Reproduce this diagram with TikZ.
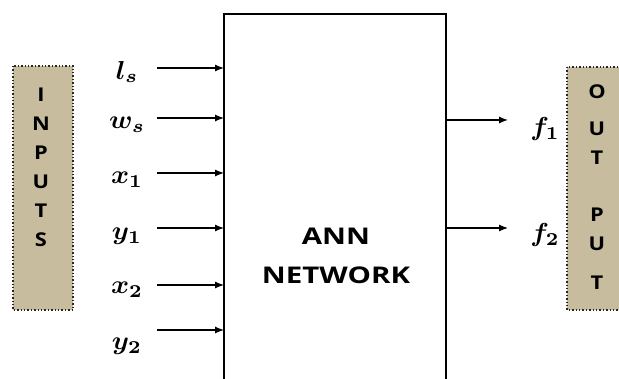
\documentclass[tikz,border=0pt]{standalone}
\usepackage{fontspec}
\usepackage{amsmath,bm,graphicx}
\newfontfamily\osans{Open Sans}
\usetikzlibrary{arrows.meta}
\definecolor{tan}{RGB}{199,189,158}
\tikzset{
  x=1pt,y=-1pt,
  sidebox/.style={draw=black!85,fill=tan,line width=1.4pt,dotted},
  letter/.style={font=\osans\bfseries\fontsize{19}{19}\selectfont},
  arr/.style={-{Latex[length=9pt,width=7pt]},line width=1.2pt},
}
\newcommand\mlab[1]{\scalebox{2.75}[2.6]{$\bm{#1}$}}
\begin{document}
\begin{tikzpicture}
\useasboundingbox (0,0) rectangle (619,379);
\begin{scope}
\clip (0,0) rectangle (619,379);
% network box
\draw[line width=1.2pt] (224,390) -- (224,14) -- (446,14) -- (446,390);
\node[font=\osans\bfseries\fontsize{23}{23}\selectfont] (ann) at (336,236) {\scalebox{1.28}[1]{ANN}};
\node[font=\osans\bfseries\fontsize{23}{23}\selectfont] (net) at (336,275) {\scalebox{1.28}[1]{NETWORK}};
% inputs box
\draw[sidebox] (13,66) rectangle (73,310);
\foreach \l [count=\i] in {I,N,P,U,T,S}
  \node[letter] (in\i) at (41,95+28.9*\i-28.9) {\scalebox{1.15}[1]{\l}};
% output box
\draw[sidebox] (567,67) rectangle (630,310);
\node[letter] (o1) at (597,92) {\scalebox{1.15}[1]{O}};
\node[letter] (o2) at (597,129) {\scalebox{1.15}[1]{U}};
\node[letter] (o3) at (597,158) {\scalebox{1.15}[1]{T}};
\node[letter] (o4) at (597,215) {\scalebox{1.15}[1]{P}};
\node[letter] (o5) at (597,244) {\scalebox{1.15}[1]{U}};
\node[letter] (o6) at (597,283) {\scalebox{1.15}[1]{T}};
% input labels and arrows
\foreach \t/\y/\ly [count=\i] in {l_s/68/72, w_s/118/125, x_1/173/180, y_1/228/236, x_2/285/290, y_2/330/346}{
  \node (L\i) at (127,\ly) {\mlab{\t}};
  \coordinate (s\i) at (157,\y);
  \coordinate (e\i) at (224,\y);
  \draw[arr] (s\i) -- (e\i);
}
% outputs
\node (f1) at (545,129) {\mlab{f_1}};
\node (f2) at (545,235) {\mlab{f_2}};
\coordinate (a1) at (446,120);
\coordinate (b1) at (508,120);
\coordinate (a2) at (446,228);
\coordinate (b2) at (508,228);
\draw[arr] (a1) -- (b1);
\draw[arr] (a2) -- (b2);
\end{scope}
\end{tikzpicture}
\end{document}
